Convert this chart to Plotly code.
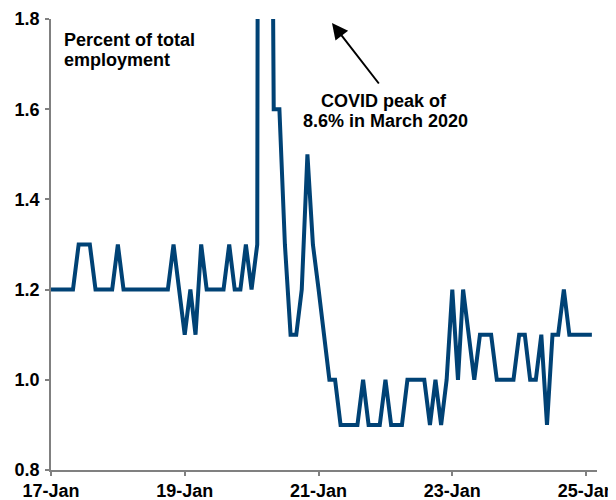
import pandas as pd
import plotly.graph_objects as go

# Monthly dates, Jan 2017 .. Feb 2025
dates = pd.date_range("2017-01-01", "2025-02-01", freq="MS")

values = [
    # 2017
    1.2, 1.2, 1.2, 1.2, 1.2, 1.3, 1.3, 1.3, 1.2, 1.2, 1.2, 1.2,
    # 2018
    1.3, 1.2, 1.2, 1.2, 1.2, 1.2, 1.2, 1.2, 1.2, 1.2, 1.3, 1.2,
    # 2019
    1.1, 1.2, 1.1, 1.3, 1.2, 1.2, 1.2, 1.2, 1.3, 1.2, 1.2, 1.3,
    # 2020
    1.2, 1.3, 8.6, 3.5, 1.6, 1.6, 1.3, 1.1, 1.1, 1.2, 1.5, 1.3,
    # 2021
    1.2, 1.1, 1.0, 1.0, 0.9, 0.9, 0.9, 0.9, 1.0, 0.9, 0.9, 0.9,
    # 2022
    1.0, 0.9, 0.9, 0.9, 1.0, 1.0, 1.0, 1.0, 0.9, 1.0, 0.9, 1.0,
    # 2023
    1.2, 1.0, 1.2, 1.1, 1.0, 1.1, 1.1, 1.1, 1.0, 1.0, 1.0, 1.0,
    # 2024
    1.1, 1.1, 1.0, 1.0, 1.1, 0.9, 1.1, 1.1, 1.2, 1.1, 1.1, 1.1,
    # 2025
    1.1, 1.1,
]

y_ticks = [0.8, 1.0, 1.2, 1.4, 1.6, 1.8]
y_tick_labels = ["0.8", "1.0", "1.2", "1.4", "1.6", "1.8"]

FONT = "Liberation Sans, Arial, sans-serif"
LINE_COLOR = "#004275"
AXIS_COLOR = "#808080"

fig = go.Figure()
fig.add_trace(go.Scatter(
    x=dates, y=values, mode="lines",
    line=dict(color=LINE_COLOR, width=4),
    hoverinfo="skip",
))

# The page body has an 8px margin: size the figure so the plot area lands
# at screen x 51..597, y 19..470.
OFF = 8
W, H = 616 - OFF, 500 - OFF
L, R, T, B = 51 - OFF, 19, 19 - OFF, 30
pw, ph = W - L - R, H - T - B

def px(x):  # screen pixel -> paper fraction
    return (x - 51) / pw

def py(y):
    return (470 - y) / ph

fig.update_layout(
    width=W, height=H,
    margin=dict(l=L, r=R, t=T, b=B, pad=0, autoexpand=False),
    paper_bgcolor="white", plot_bgcolor="white",
    showlegend=False,
    font=dict(family=FONT, color="black"),
    xaxis=dict(
        type="date",
        range=["2017-01-01", "2025-03-01"],
        tick0="2017-01-01", dtick="M24", tickformat="%y-%b",
        showgrid=False, zeroline=False, automargin=False,
        showline=True, linecolor=AXIS_COLOR, linewidth=1.5,
        ticks="outside", ticklen=4, tickcolor=AXIS_COLOR, tickwidth=1.5,
        tickfont=dict(family=FONT, size=18, weight="bold", color="black"),
        ticklabelstandoff=0,
    ),
    yaxis=dict(
        range=[0.8, 1.8],
        tickvals=y_ticks, ticktext=y_tick_labels,
        showgrid=False, zeroline=False, automargin=False,
        showline=True, linecolor=AXIS_COLOR, linewidth=1.5,
        ticks="outside", ticklen=4, tickcolor=AXIS_COLOR, tickwidth=1.5,
        tickfont=dict(family=FONT, size=18, weight="bold", color="black"),
        ticklabelstandoff=2,
    ),
)

ann_font = dict(family=FONT, size=18, weight="bold", color="black")

def label(text, x, y, anchor):
    fig.add_annotation(
        xref="paper", yref="paper", x=px(x), y=py(y),
        xanchor=anchor, yanchor="middle",
        text=text, showarrow=False, font=ann_font,
    )

label("Percent of total", 62, 40, "left")
label("employment", 62, 60, "left")
label("COVID peak of", 384, 101, "center")
label("8.6% in March 2020", 385, 121, "center")

fig.add_annotation(
    xref="paper", yref="paper", x=px(332), y=py(23),
    axref="pixel", ayref="pixel", ax=48, ay=62,
    text="", showarrow=True, arrowhead=2, arrowsize=1.6,
    arrowwidth=2, arrowcolor="black",
)

fig.write_html("out.html")
